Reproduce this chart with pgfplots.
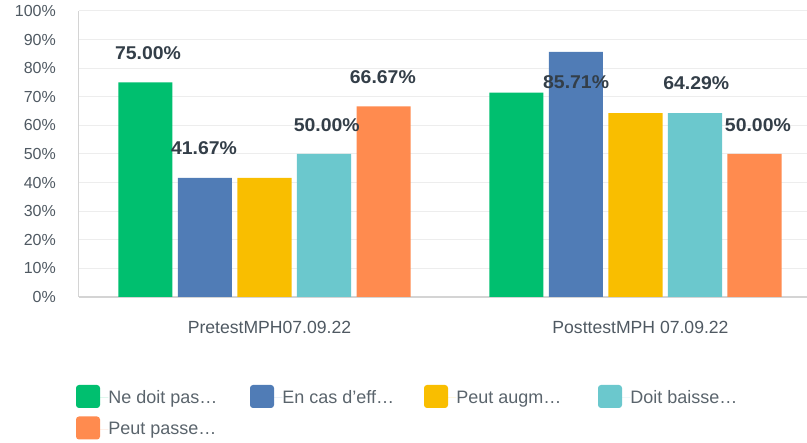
\documentclass[border=0pt]{standalone}
\usepackage{pgfplots}
\pgfplotsset{compat=1.18}
\usepackage{fontspec}
\setmainfont{Liberation Sans}
\newfontfamily\boldlab[FakeStretch=1.05]{Liberation Sans}
\definecolor{cgreen}{HTML}{00BF6F}
\definecolor{cblue}{HTML}{507CB6}
\definecolor{cyellow}{HTML}{F9BE00}
\definecolor{cteal}{HTML}{6BC8CD}
\definecolor{corange}{HTML}{FF8B4F}
\definecolor{labtxt}{HTML}{333E48}
\definecolor{ticktxt}{HTML}{4F5962}
\definecolor{legtxt}{HTML}{5A646C}
\definecolor{gridc}{HTML}{EDEDED}
\definecolor{axisc}{HTML}{D4D4D4}
\begin{document}
\begin{tikzpicture}
\useasboundingbox (0,0) rectangle (807pt,443pt);
\begin{axis}[
  at={(79pt,146pt)}, anchor=south west,
  scale only axis, width=728pt, height=286pt,
  xmin=-0.5, xmax=1.4623, ymin=0, ymax=100,
  xtick={0,1}, xticklabels={PretestMPH07.09.22, PosttestMPH 07.09.22},
  ytick={0,10,...,100},
  /pgf/number format/assume math mode=true,
  yticklabel={\pgfmathprintnumber{\tick}\%},
  major tick length=0pt,
  axis x line*=bottom, axis y line*=left,
  x axis line style={draw=axisc, line width=1.6pt, -},
  y axis line style={draw=axisc, line width=1pt, -},
  ymajorgrids, grid style={draw=gridc, line width=1pt},
  yticklabel style={font=\fontsize{16}{18}\selectfont, text=ticktxt, anchor=east, inner sep=0pt, xshift=-23pt},
  xticklabel style={font=\fontsize{17.6}{20}\selectfont, text=ticktxt, anchor=north, inner sep=0pt, yshift=-24.5pt, xshift=5pt},
  legend columns=4,
  legend cell align=left,
  legend style={at={(rel axis cs:-0.0041,-0.3077)}, anchor=north west, draw=none, fill=none,
    inner sep=0pt, outer sep=0pt, row sep=8.5pt, column sep=0pt,
    font=\fontsize{18}{20}\selectfont, text=legtxt, nodes={inner sep=0pt}},
  legend image code/.code={\fill[#1, rounded corners=3pt] (0pt,-10.2pt) rectangle (24pt,12.8pt); \path (0pt,0pt) -- (32.3pt,0pt);},
]
\addplot[ybar, bar width=0.1456, bar shift=-0.3208, fill=cgreen, draw=none] coordinates {(0,75.00) (1,71.43)};
\addlegendentry{\makebox[141.7pt][l]{Ne doit pas…}}
\addplot[ybar, bar width=0.1456, bar shift=-0.1604, fill=cblue, draw=none] coordinates {(0,41.67) (1,85.71)};
\addlegendentry{\makebox[141.7pt][l]{En cas d’eff…}}
\addplot[ybar, bar width=0.1456, bar shift=0, fill=cyellow, draw=none] coordinates {(0,41.67) (1,64.29)};
\addlegendentry{\makebox[141.7pt][l]{Peut augm…}}
\addplot[ybar, bar width=0.1456, bar shift=0.1604, fill=cteal, draw=none] coordinates {(0,50.00) (1,64.29)};
\addlegendentry{\makebox[141.7pt][l]{Doit baisse…}}
\addplot[ybar, bar width=0.1456, bar shift=0.3208, fill=corange, draw=none] coordinates {(0,66.67) (1,50.00)};
\addlegendentry{\makebox[141.7pt][l]{Peut passe…}}
\addplot[forget plot, draw=none, mark=none, nodes near coords, point meta=explicit symbolic,
  nodes near coords style={anchor=center, inner sep=0pt, text=labtxt, font=\boldlab\bfseries\fontsize{18.5}{20}\selectfont}]
  coordinates {(-0.314,85.3) [75.00\%] (-0.163,52.1) [41.67\%] (0.168,60.1) [50.00\%] (0.319,76.9) [66.67\%]
  (0.840,75.2) [85.71\%] (1.164,74.8) [64.29\%] (1.330,60.1) [50.00\%]};
\end{axis}
\end{tikzpicture}
\end{document}
